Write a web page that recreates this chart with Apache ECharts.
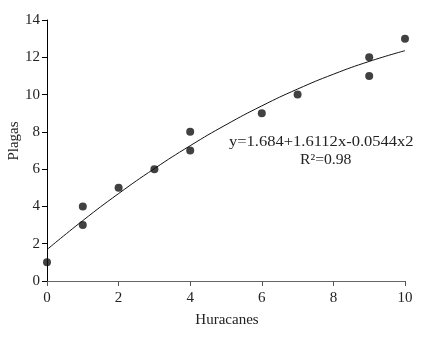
<!DOCTYPE html>
<html><head><meta charset="utf-8">
<script src="https://cdn.jsdelivr.net/npm/echarts@6/dist/echarts.min.js"></script>
<style>html,body{margin:0;padding:0;background:#fff}#c{width:424px;height:338px}</style>
</head><body><div id="c"></div>
<script>
var huracanes = [0, 1, 1, 2, 3, 4, 4, 6, 7, 9, 9, 10];
var plagas = [1, 3, 4, 5, 6, 7, 8, 9, 10, 11, 12, 13];
var curveX = [0, 1, 2, 3, 4, 5, 6, 7, 8, 9, 10];
var curveY = [1.684, 3.241, 4.689, 6.028, 7.258, 8.38, 9.393, 10.297, 11.092, 11.778, 12.356];
var eqText = "y=1.684+1.6112x-0.0544x2";
var r2Text = "R\u00B2=0.98";
var xName = "Huracanes";
var yName = "Plagas";

var ff = '"Liberation Serif", "DejaVu Serif", serif';
var chart = echarts.init(document.getElementById('c'));
chart.setOption({
  animation: false,
  grid: {left: 47, top: 20, width: 358, height: 261, outerBoundsMode: 'none', containLabel: false},
  xAxis: {
    type: 'value', min: 0, max: 10, interval: 2,
    axisLine: {lineStyle: {color: '#666', width: 1}},
    axisTick: {show: true, length: 5, lineStyle: {color: '#555'}},
    axisLabel: {fontFamily: ff, fontSize: 15, color: '#222', margin: 10},
    splitLine: {show: false}
  },
  yAxis: {
    type: 'value', min: 0, max: 14, interval: 2,
    axisLine: {show: true, lineStyle: {color: '#000', width: 1}},
    axisTick: {show: true, length: 5, lineStyle: {color: '#000'}},
    axisLabel: {fontFamily: ff, fontSize: 15, color: '#222', margin: 7},
    splitLine: {show: false}
  },
  series: [
    {
      type: 'line', data: curveX.map(function(x, i){ return [x, curveY[i]]; }),
      smooth: true, showSymbol: false, symbol: 'none',
      lineStyle: {color: '#111', width: 1}, z: 1
    },
    {
      type: 'scatter', data: huracanes.map(function(x, i){ return [x, plagas[i]]; }),
      symbol: 'circle', symbolSize: 8, itemStyle: {color: '#111'}, z: 2
    }
  ],
  graphic: [
    {type: 'text', x: 229, y: 135, scaleX: 1.18, style: {text: eqText, font: '14px ' + ff, fill: '#222'}},
    {type: 'text', x: 300, y: 153, scaleX: 1.12, style: {text: r2Text, font: '14px ' + ff, fill: '#222'}},
    {type: 'text', x: 227, y: 313, style: {text: xName, font: '15px ' + ff, fill: '#222', align: 'center'}},
    {type: 'text', x: 7, y: 141, rotation: Math.PI / 2, style: {text: yName, font: '15px ' + ff, fill: '#222', align: 'center'}}
  ]
});
</script></body></html>
